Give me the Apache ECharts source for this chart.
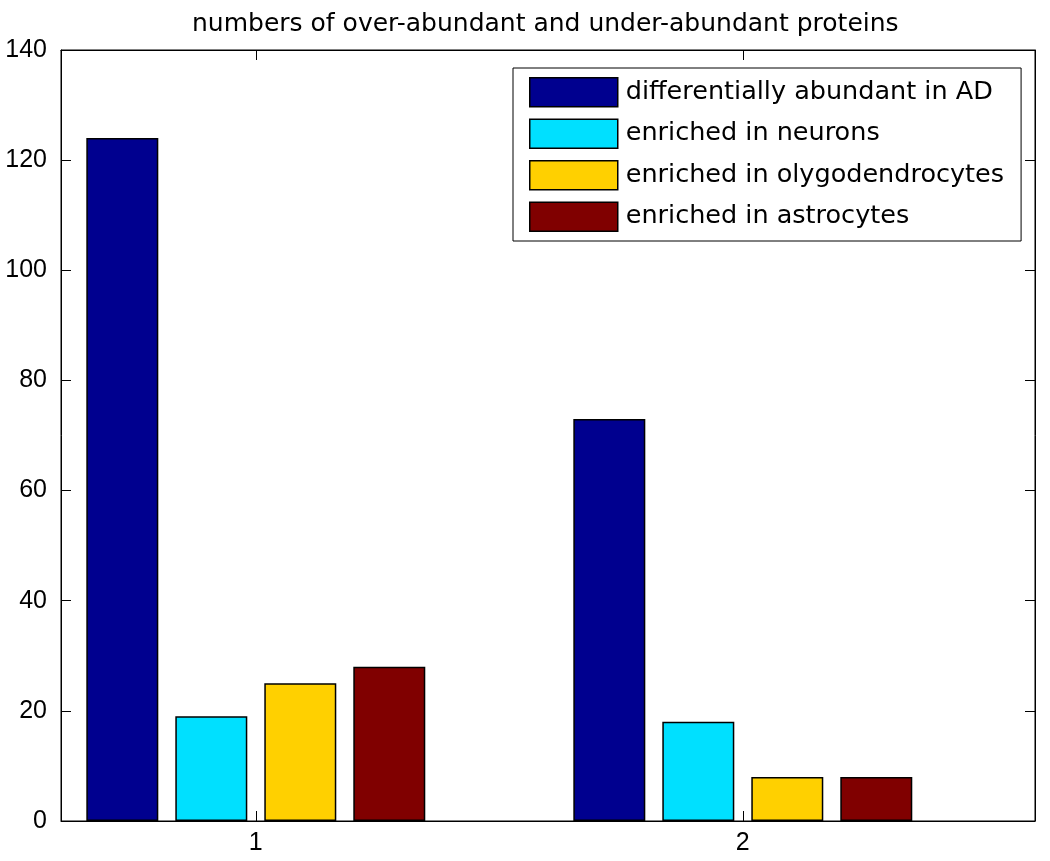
<!DOCTYPE html>
<html><head><meta charset="utf-8">
<script src="https://cdn.jsdelivr.net/npm/echarts@6/dist/echarts.min.js"></script>
<style>html,body{margin:0;padding:0;background:#fff}#c{width:1050px;height:861px}</style>
</head><body><div id="c"></div>
<script>
const groups = [1, 2];
const seriesNames = ['differentially abundant in AD', 'enriched in neurons', 'enriched in olygodendrocytes', 'enriched in astrocytes'];
const adValues = [124, 73];
const neuronValues = [19, 18];
const oligoValues = [25, 8];
const astroValues = [28, 8];
const colors = ['#00008F', '#00E0FF', '#FFD000', '#800000'];
const yTicks = [0, 20, 40, 60, 80, 100, 120, 140];
const title = 'numbers of over-abundant and under-abundant proteins';

const allValues = [adValues, neuronValues, oligoValues, astroValues];
const font = 'DejaVu Sans';
const tickFont = 'Liberation Sans';
const chart = echarts.init(document.getElementById('c'));
chart.setOption({
  animation: false,
  backgroundColor: '#fff',
  title: { text: title, left: 187, top: 7, textStyle: { fontFamily: font, fontWeight: 'normal', fontSize: 25, color: '#000' } },
  grid: { left: 61, right: 15, top: 50, bottom: 40, show: true, borderColor: '#000', borderWidth: 1 },
  legend: {
    left: 513, top: 68, orient: 'vertical',
    itemWidth: 88, itemHeight: 29, itemGap: 11,
    padding: [9, 17, 9, 16],
    backgroundColor: '#fff', borderColor: '#000', borderWidth: 1,
    textStyle: { fontFamily: font, fontSize: 25.5, color: '#000', lineHeight: 29, padding: [0, 0, 0, 3] },
    data: seriesNames.map(n => ({ name: n, icon: 'rect', itemStyle: { borderColor: '#000', borderWidth: 1.5 } }))
  },
  xAxis: [{
    type: 'value', min: 0.6, max: 2.6, position: 'bottom',
    splitLine: { show: false },
    axisLine: { show: true, onZero: false, lineStyle: { color: '#000' } },
    axisTick: { show: true, inside: true, length: 10, customValues: groups, lineStyle: { color: '#000' } },
    axisLabel: { customValues: groups, fontFamily: tickFont, fontSize: 25, color: '#000', margin: 10 }
  }, {
    type: 'value', min: 0.6, max: 2.6, position: 'top',
    splitLine: { show: false },
    axisLine: { show: true, onZero: false, lineStyle: { color: '#000' } },
    axisTick: { show: true, inside: true, length: 10, customValues: groups, lineStyle: { color: '#000' } },
    axisLabel: { show: false, customValues: groups }
  }],
  yAxis: [{
    type: 'value', min: 0, max: 140, interval: 20, position: 'left',
    splitLine: { show: false },
    axisLine: { show: true, lineStyle: { color: '#000' } },
    axisTick: { show: true, inside: true, length: 10, lineStyle: { color: '#000' } },
    axisLabel: { fontFamily: tickFont, fontSize: 25, color: '#000', margin: 14 }
  }, {
    type: 'value', min: 0, max: 140, interval: 20, position: 'right',
    splitLine: { show: false },
    axisLine: { show: true, lineStyle: { color: '#000' } },
    axisTick: { show: true, inside: true, length: 10, lineStyle: { color: '#000' } },
    axisLabel: { show: false }
  }],
  series: seriesNames.map((n, i) => ({
    name: n, type: 'bar', xAxisIndex: 0, yAxisIndex: 0,
    barWidth: 72, barGap: '23.6%',
    itemStyle: { color: colors[i], borderColor: '#000', borderWidth: 1.5 },
    data: groups.map((g, j) => [g, allValues[i][j]])
  }))
});
</script></body></html>
